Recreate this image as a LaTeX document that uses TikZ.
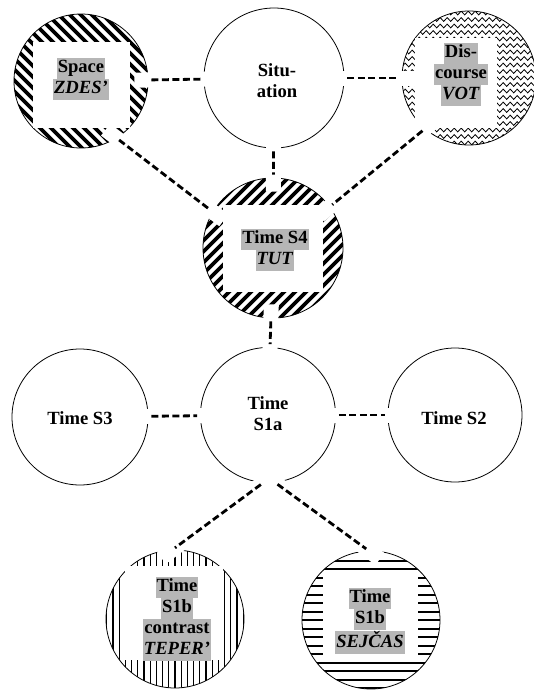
\documentclass[tikz,border=0pt]{standalone}
\usepackage{fontspec}
\setmainfont{Liberation Serif}
\usepackage{tikz}
\usetikzlibrary{calc,decorations.pathmorphing}

\definecolor{hlgray}{RGB}{182,182,182}
\newcommand{\hl}[1]{{\setlength{\fboxsep}{0pt}\colorbox{hlgray}{\strut\kern1pt#1\kern1pt}}}

\tikzset{
  ring/.style={draw, line width=0.8pt, circle, minimum size=136pt, inner sep=0pt},
  word/.style={align=center, inner sep=0pt, font=\fontsize{18.6}{21}\selectfont\bfseries},
  link/.style={line width=2.8pt, dash pattern=on 7pt off 3.5pt, shorten <=3pt, shorten >=3pt},
  halo/.style={white, line width=15pt, shorten <=-14pt, shorten >=-14pt},
  hatchdown/.style={path picture={
    \foreach \k in {-16,...,16}
      \draw[line width=3.8pt] ($(path picture bounding box.center)+(\k*11-80,80)$) -- ++(160,-160);}},
  hatchup/.style={path picture={
    \foreach \k in {-16,...,16}
      \draw[line width=3.8pt] ($(path picture bounding box.center)+(\k*11-80,-80)$) -- ++(160,160);}},
  waves/.style={path picture={
    \begin{scope}[shift={(path picture bounding box.center)}]
    \foreach \r in {-11,...,11}
      \draw[line width=0.8pt, decorate, decoration={snake, amplitude=1.9pt, segment length=7pt}] (-80,\r*6.5) -- (80,\r*6.5);
    \end{scope}}},
  vlines/.style={path picture={
    \foreach \k in {-13,...,13}
      \draw[line width=1.1pt] ($(path picture bounding box.center)+(\k*6.2,-80)$) -- ++(0,160);}},
  hlines/.style={path picture={
    \foreach \k in {-9,...,9}
      \draw[line width=2pt] ($(path picture bounding box.center)+(-80,\k*8.5)$) -- ++(160,0);}}
}

\begin{document}
\begin{tikzpicture}[x=1pt,y=1pt,yscale=-1,xscale=1]
\useasboundingbox (0,0) rectangle (534,694);

%Shape: Circle [id:space]
\node[ring, hatchdown, minimum size=134pt] (space) at (81,81) {};
%Shape: Circle [id:situation]
\node[ring, minimum size=140pt] (situation) at (274,78) {};
%Shape: Circle [id:discourse]
\node[ring, waves, minimum size=134pt] (discourse) at (469,78) {};
%Shape: Circle [id:tfour]
\node[ring, hatchup, minimum size=140pt] (tfour) at (273,248) {};
%Shape: Circle [id:sthree]
\node[ring] (sthree) at (80,417) {};
%Shape: Circle [id:sonea]
\node[ring, minimum size=135pt] (sonea) at (268,415) {};
%Shape: Circle [id:stwo]
\node[ring, minimum size=134pt] (stwo) at (455,415) {};
%Shape: Circle [id:contrast]
\node[ring, vlines, minimum size=138pt] (contrast) at (175,619) {};
%Shape: Circle [id:sejcas]
\node[ring, hlines, minimum size=138pt] (sejcas) at (371,620) {};

%Shape: Rectangle (blank inside the pattern)
\fill[white] ($(space)+(-48,-39)$) rectangle ($(space)+(49,47)$);
\fill[white] ($(discourse)+(-54,-40)$) rectangle ($(discourse)+(28,50)$);
\fill[white] ($(tfour)+(-50,-43)$) rectangle ($(tfour)+(50,44)$);
\fill[white] ($(contrast)+(-50,-53)$) rectangle ($(contrast)+(48,41)$);
\fill[white] ($(sejcas)+(-48,-47)$) rectangle ($(sejcas)+(47,42)$);

%Straight Lines (dashed)
\foreach \a/\b in {space/situation, situation/discourse, space.-58/tfour.149,
    discourse.-131/tfour.36, situation/tfour, tfour/sonea, sthree/sonea,
    sonea/stwo, sonea.-94/contrast.92, sonea.-84/sejcas.92}{
  \draw[halo] (\a) -- (\b);
  \draw[link] (\a) -- (\b);
}

% Text Node
\node[word] (spacetxt) at (81,79) {\hl{Space}\\\hl{\textit{ZDES’}}};
% Text Node
\node[word] (situationtxt) at (277,81) {Situ-\\ation};
% Text Node
\node[word] (discoursetxt) at (461,74) {\hl{Dis-}\\\hl{course}\\\hl{\textit{VOT}}};
% Text Node
\node[word] (tfourtxt) at (275,250) {\hl{Time S4}\\\hl{\textit{TUT}}};
% Text Node
\node[word] (sthreetxt) at (80,418) {Time S3};
% Text Node
\node[word] (soneatxt) at (268,414) {Time\\S1a};
% Text Node
\node[word] (stwotxt) at (454,418) {Time S2};
% Text Node
\node[word] (contrasttxt) at (177,619) {\hl{Time}\\\hl{S1b}\\\hl{contrast}\\\hl{\textit{TEPER’}}};
% Text Node
\node[word] (sejcastxt) at (370,621) {\hl{Time}\\\hl{S1b}\\\hl{\textit{SEJČAS}}};

\end{tikzpicture}
\end{document}
